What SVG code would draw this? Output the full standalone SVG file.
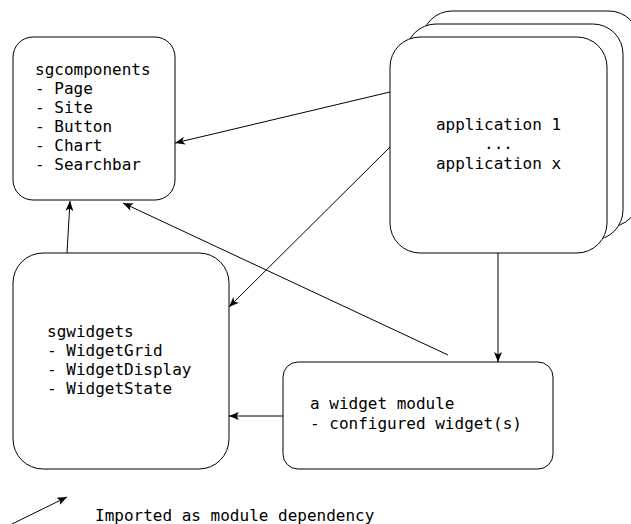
<svg xmlns="http://www.w3.org/2000/svg" width="631" height="524" viewBox="0 0 631 524">
<style>
.box{fill:#fff;stroke:#000;stroke-width:1}
.t{font-family:"DejaVu Sans Mono",monospace;font-size:16px;fill:#000}
.c{fill:none;stroke:#000;stroke-width:1}
</style>
<defs>
<marker id="arr" viewBox="0 0 10 8" refX="10" refY="4" markerWidth="10" markerHeight="8" markerUnits="userSpaceOnUse" orient="auto">
<path d="M0,0 L10,4 L0,8 L2.5,4 Z" fill="#000"/>
</marker>
</defs>
<rect width="631" height="524" fill="#fff"/>
<g id="apps">
<rect class="box" x="422" y="11" width="217" height="216" rx="30"/>
<rect class="box" x="406" y="24" width="217" height="216" rx="30"/>
<rect class="box" x="390" y="37" width="217" height="216" rx="30"/>
<text class="t" text-anchor="middle" x="498.5" y="130">application 1</text>
<text class="t" text-anchor="middle" x="498.5" y="149">...</text>
<text class="t" text-anchor="middle" x="498.5" y="168.5">application x</text>
</g>
<g id="sgcomponents">
<rect class="box" x="13" y="37" width="162" height="163" rx="20"/>
<text class="t" x="35" y="75">sgcomponents</text>
<text class="t" x="35" y="94">- Page</text>
<text class="t" x="35" y="113">- Site</text>
<text class="t" x="35" y="132">- Button</text>
<text class="t" x="35" y="151">- Chart</text>
<text class="t" x="35" y="170">- Searchbar</text>
</g>
<g id="sgwidgets">
<rect class="box" x="13" y="253" width="216" height="216" rx="30"/>
<text class="t" x="47" y="337">sgwidgets</text>
<text class="t" x="47" y="356">- WidgetGrid</text>
<text class="t" x="47" y="375">- WidgetDisplay</text>
<text class="t" x="47" y="394">- WidgetState</text>
</g>
<g id="widgetmodule">
<rect class="box" x="283" y="362" width="270" height="107" rx="15"/>
<text class="t" x="310" y="409">a widget module</text>
<text class="t" x="310" y="428.5">- configured widget(s)</text>
</g>
<g id="connectors">
<line class="c" x1="390" y1="92" x2="175" y2="143" marker-end="url(#arr)"/>
<line class="c" x1="390" y1="147" x2="229" y2="307" marker-end="url(#arr)"/>
<line class="c" x1="448" y1="355" x2="123" y2="203" marker-end="url(#arr)"/>
<line class="c" x1="67" y1="253" x2="70" y2="201" marker-end="url(#arr)"/>
<line class="c" x1="498" y1="253" x2="498" y2="362" marker-end="url(#arr)"/>
<line class="c" x1="283" y1="416" x2="229" y2="416" marker-end="url(#arr)"/>
</g>
<g id="legend">
<line class="c" x1="12" y1="524" x2="67" y2="497" marker-end="url(#arr)"/>
<text class="t" x="95" y="521">Imported as module dependency</text>
</g>
</svg>
